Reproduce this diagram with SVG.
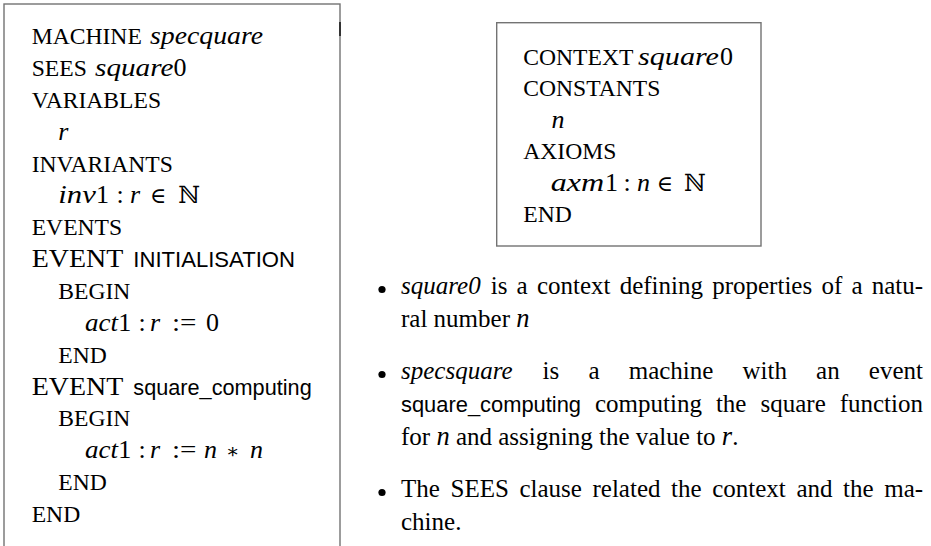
<svg xmlns="http://www.w3.org/2000/svg" width="931" height="546" viewBox="0 0 931 546">
<style>
  .t { font-family: "Liberation Serif", "Times New Roman", serif; font-size: 23.6px; fill: #000; }
  .m { font-size: 26px; }
  .b { font-family: "Liberation Serif", "Times New Roman", serif; font-size: 25px; fill: #000; }
  .bm { font-size: 26.5px; }
  .it { font-style: italic; }
  .sf { font-family: "Liberation Sans", Arial, sans-serif; }
  .sym { font-family: "DejaVu Serif", serif; }
  .box { fill: #fff; stroke: #737373; stroke-width: 1.4; }
</style>
<rect width="931" height="546" fill="#fff"/>

<g id="machine">
  <rect class="box" x="4" y="4" width="336" height="600"/>
  <line x1="340" y1="22" x2="340" y2="36" stroke="#333" stroke-width="2"/>
  <text class="t" x="31.7" y="44">MACHINE</text>
  <text class="t m it" x="150" y="44" textLength="113" lengthAdjust="spacingAndGlyphs">specquare</text>
  <text class="t" x="31.7" y="75.9">SEES</text>
  <text class="t m it" x="95" y="75.9" textLength="78.5" lengthAdjust="spacingAndGlyphs">square</text>
  <text class="t m" x="173.5" y="75.9">0</text>
  <text class="t" x="31.7" y="107.7">VARIABLES</text>
  <text class="t m it" x="58.3" y="139.6">r</text>
  <text class="t" x="31.7" y="171.5">INVARIANTS</text>
  <text class="t m it" x="58.3" y="203.4" textLength="37.5" lengthAdjust="spacingAndGlyphs">inv</text>
  <text class="t m" x="96" y="203.4">1</text>
  <text class="t m" x="116.5" y="203.4">:</text>
  <text class="t m it" x="130" y="203.4">r</text>
  <text class="t sym" x="150" y="203.4" style="font-size:22px">∈</text>
  <text class="t sym" x="178.3" y="203.4">ℕ</text>
  <text class="t" x="31.7" y="235.2">EVENTS</text>
  <text class="t" x="31.7" y="267.1" style="font-size:25.5px" textLength="91.6" lengthAdjust="spacingAndGlyphs">EVENT</text>
  <text class="t sf" x="133.3" y="267.1" style="font-size:21.2px" textLength="161.7" lengthAdjust="spacingAndGlyphs">INITIALISATION</text>
  <text class="t" x="58.3" y="299">BEGIN</text>
  <text class="t m it" x="85" y="330.8" textLength="33" lengthAdjust="spacingAndGlyphs">act</text>
  <text class="t m" x="118.3" y="330.8">1</text>
  <text class="t m" x="138.5" y="330.8">:</text>
  <text class="t m it" x="150" y="330.8">r</text>
  <text class="t m" x="172" y="330.8" textLength="24.5" lengthAdjust="spacingAndGlyphs">:=</text>
  <text class="t m" x="206" y="330.8">0</text>
  <text class="t" x="58.3" y="362.7">END</text>
  <text class="t" x="31.7" y="394.6" style="font-size:25.5px" textLength="91.6" lengthAdjust="spacingAndGlyphs">EVENT</text>
  <text class="t sf" x="133.3" y="394.6" style="font-size:21.2px" textLength="178.4" lengthAdjust="spacingAndGlyphs">square_computing</text>
  <text class="t" x="58.3" y="426.4">BEGIN</text>
  <text class="t m it" x="85" y="458.3" textLength="33" lengthAdjust="spacingAndGlyphs">act</text>
  <text class="t m" x="118.3" y="458.3">1</text>
  <text class="t m" x="138.5" y="458.3">:</text>
  <text class="t m it" x="150" y="458.3">r</text>
  <text class="t m" x="172" y="458.3" textLength="24.5" lengthAdjust="spacingAndGlyphs">:=</text>
  <text class="t m it" x="204" y="458.3">n</text>
  <text class="t sym" x="226" y="458.3" style="font-size:20px">∗</text>
  <text class="t m it" x="250" y="458.3">n</text>
  <text class="t" x="58.3" y="490.2">END</text>
  <text class="t" x="31.7" y="522.1">END</text>
</g>

<g id="context">
  <rect class="box" x="496.7" y="22.7" width="264.3" height="223.3"/>
  <text class="t" x="523.3" y="65">CONTEXT</text>
  <text class="t m it" x="638" y="65" textLength="81" lengthAdjust="spacingAndGlyphs">square</text>
  <text class="t m" x="720" y="65">0</text>
  <text class="t" x="523.3" y="96.4">CONSTANTS</text>
  <text class="t m it" x="551.5" y="127.8">n</text>
  <text class="t" x="523.3" y="159.2">AXIOMS</text>
  <text class="t m it" x="550.7" y="190.6" textLength="53.5" lengthAdjust="spacingAndGlyphs">axm</text>
  <text class="t m" x="605" y="190.6">1</text>
  <text class="t m" x="623.5" y="190.6">:</text>
  <text class="t m it" x="637" y="190.6">n</text>
  <text class="t sym" x="656.7" y="190.6" style="font-size:22px">∈</text>
  <text class="t sym" x="684" y="190.6">ℕ</text>
  <text class="t" x="523.3" y="222">END</text>
</g>

<g id="notes">
  <circle cx="382" cy="289.5" r="3.6" fill="#000"/>
  <text class="b" y="294"><tspan class="it" x="401">square0</tspan><tspan x="490.7">is</tspan><tspan x="516.6">a</tspan><tspan x="536.9">context</tspan><tspan x="619.7">defining</tspan><tspan x="712.2">properties</tspan><tspan x="821.4">of</tspan><tspan x="851.4">a</tspan><tspan x="871.7">natu-</tspan></text>
  <text class="b" x="401" y="327">ral number <tspan class="it bm">n</tspan></text>

  <circle cx="382" cy="374.5" r="3.6" fill="#000"/>
  <text class="b" y="379"><tspan class="it" x="401">specsquare</tspan><tspan x="542.6">is</tspan><tspan x="588.4">a</tspan><tspan x="628.7">machine</tspan><tspan x="742.5">with</tspan><tspan x="816.1">an</tspan><tspan x="868.8">event</tspan></text>
  <text class="b sf" x="401" y="412" style="font-size:22.5px" textLength="180" lengthAdjust="spacingAndGlyphs">square_computing</text>
  <text class="b" y="412"><tspan x="595">computing</tspan><tspan x="715.9">the</tspan><tspan x="760.5">square</tspan><tspan x="839.7">function</tspan></text>
  <text class="b" x="401" y="445">for <tspan class="it bm">n</tspan> and assigning the value to <tspan class="it bm">r</tspan>.</text>

  <circle cx="382" cy="492.5" r="3.6" fill="#000"/>
  <text class="b" y="497"><tspan x="401">The</tspan><tspan x="450.5">SEES</tspan><tspan x="519.4">clause</tspan><tspan x="592.5">related</tspan><tspan x="671.1">the</tspan><tspan x="712.2">context</tspan><tspan x="796.4">and</tspan><tspan x="843.1">the</tspan><tspan x="884.2">ma-</tspan></text>
  <text class="b" x="401" y="530">chine.</text>
</g>
</svg>
